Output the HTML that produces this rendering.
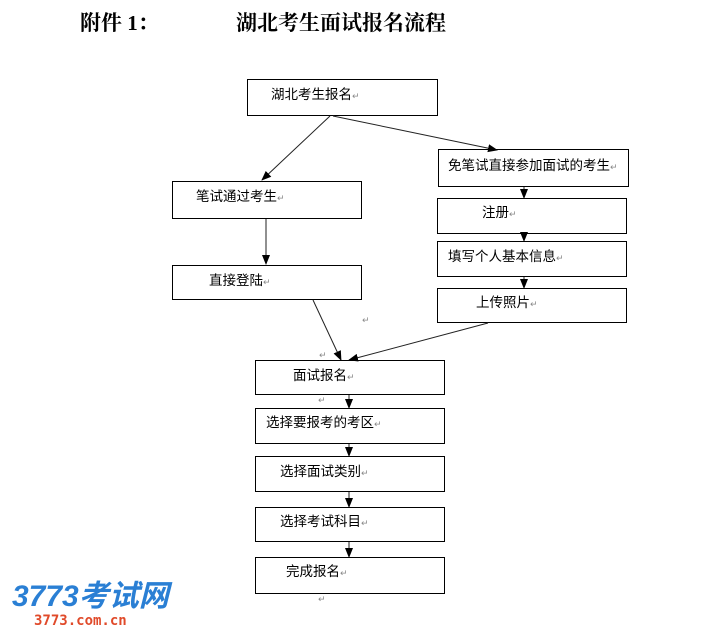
<!DOCTYPE html>
<html><head><meta charset="utf-8"><style>
html,body{margin:0;padding:0;background:#fff;width:719px;height:643px;overflow:hidden}
svg{display:block}
.t{font-family:"Liberation Sans","Noto Sans CJK SC",sans-serif;font-size:13.5px;fill:#000}
.r{font-family:"DejaVu Sans",sans-serif;font-size:9px;fill:#888}
.h{font-family:"Liberation Serif","Noto Serif CJK SC",serif;font-size:21px;font-weight:bold;fill:#000}
</style></head><body>
<svg width="719" height="643" viewBox="0 0 719 643">
<defs><marker id="a" markerWidth="10" markerHeight="10" refX="9" refY="5" orient="auto" markerUnits="userSpaceOnUse"><path d="M0,1 L10,5 L0,9 Z" fill="#000"/></marker></defs>
<text class="h" x="80" y="30">附件 1：</text>
<text class="h" x="236" y="30">湖北考生面试报名流程</text>
<g fill="#fff" stroke="#000" stroke-width="1">
<rect x="247.5" y="79.5" width="190" height="36"/>
<rect x="172.5" y="181.5" width="189" height="37"/>
<rect x="172.5" y="265.5" width="189" height="34"/>
<rect x="438.5" y="149.5" width="190" height="37"/>
<rect x="437.5" y="198.5" width="189" height="35"/>
<rect x="437.5" y="241.5" width="189" height="35"/>
<rect x="437.5" y="288.5" width="189" height="34"/>
<rect x="255.5" y="360.5" width="189" height="34"/>
<rect x="255.5" y="408.5" width="189" height="35"/>
<rect x="255.5" y="456.5" width="189" height="35"/>
<rect x="255.5" y="507.5" width="189" height="34"/>
<rect x="255.5" y="557.5" width="189" height="36"/>
</g>
<g stroke="#222" stroke-width="1" marker-end="url(#a)">
<line x1="330" y1="116" x2="262" y2="180"/>
<line x1="333" y1="116" x2="497" y2="150"/>
<line x1="266" y1="219" x2="266" y2="264"/>
<line x1="313" y1="300" x2="341" y2="360"/>
<line x1="488" y1="323" x2="349" y2="360"/>
<line x1="524" y1="187" x2="524" y2="198"/>
<line x1="524" y1="234" x2="524" y2="241"/>
<line x1="524" y1="277" x2="524" y2="288"/>
<line x1="349" y1="395" x2="349" y2="408"/>
<line x1="349" y1="444" x2="349" y2="456"/>
<line x1="349" y1="492" x2="349" y2="507"/>
<line x1="349" y1="542" x2="349" y2="557"/>
</g>
<text class="t" x="271" y="99">湖北考生报名<tspan class="r">↵</tspan></text>
<text class="t" x="196" y="201">笔试通过考生<tspan class="r">↵</tspan></text>
<text class="t" x="209" y="285">直接登陆<tspan class="r">↵</tspan></text>
<text class="t" x="448" y="170">免笔试直接参加面试的考生<tspan class="r">↵</tspan></text>
<text class="t" x="482" y="217">注册<tspan class="r">↵</tspan></text>
<text class="t" x="448" y="261">填写个人基本信息<tspan class="r">↵</tspan></text>
<text class="t" x="476" y="307">上传照片<tspan class="r">↵</tspan></text>
<text class="t" x="293" y="380">面试报名<tspan class="r">↵</tspan></text>
<text class="t" x="266" y="427">选择要报考的考区<tspan class="r">↵</tspan></text>
<text class="t" x="280" y="476">选择面试类别<tspan class="r">↵</tspan></text>
<text class="t" x="280" y="526">选择考试科目<tspan class="r">↵</tspan></text>
<text class="t" x="286" y="576">完成报名<tspan class="r">↵</tspan></text>
<text class="r" x="362" y="323">↵</text>
<text class="r" x="319" y="358">↵</text>
<text class="r" x="318" y="403">↵</text>
<text class="r" x="318" y="602">↵</text>
<text x="12" y="606" style="font-family:'Liberation Sans','Noto Sans CJK SC',sans-serif;font-size:30px;font-weight:bold;font-style:italic;fill:#2a7fd4">3773考试网</text>
<text x="34" y="625" style="font-family:'DejaVu Sans Mono',monospace;font-size:14px;font-weight:bold;fill:#e04a2a">3773.com.cn</text>
</svg>
</body></html>
